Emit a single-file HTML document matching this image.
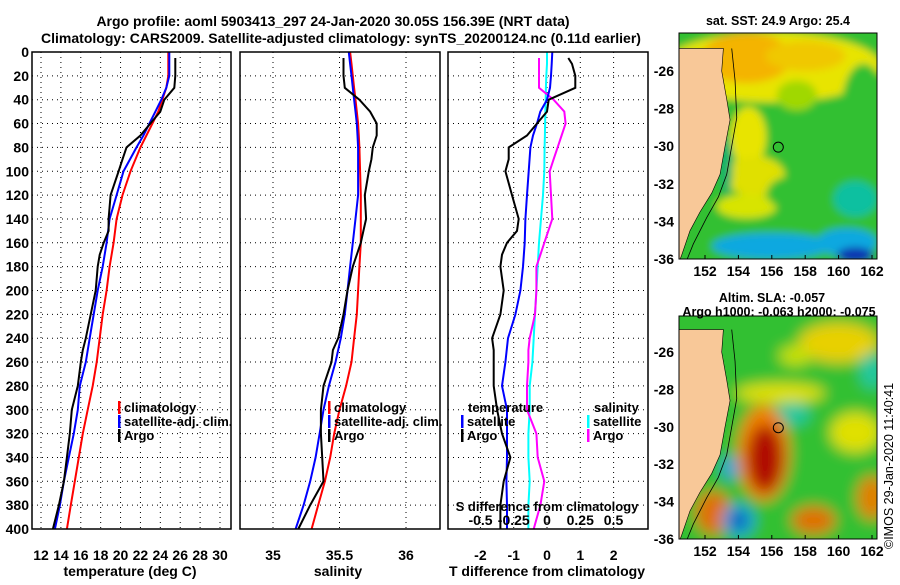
<!DOCTYPE html>
<html><head><meta charset="utf-8">
<style>
body{margin:0;background:#fff;width:900px;height:580px;overflow:hidden;font-family:"Liberation Sans",sans-serif;}
svg text{font-family:"Liberation Sans",sans-serif;font-weight:bold;font-size:14px;fill:#000;}
svg text.lg{font-size:13px;}
</style></head><body>
<svg id="c" width="900" height="580" xmlns="http://www.w3.org/2000/svg">
<defs>
<filter id="bl" x="-50%" y="-50%" width="200%" height="200%"><feGaussianBlur stdDeviation="7"/></filter>
<filter id="bl2" x="-50%" y="-50%" width="200%" height="200%"><feGaussianBlur stdDeviation="4"/></filter>
<clipPath id="cm1"><rect x="679" y="33" width="198" height="226"/></clipPath>
<clipPath id="cm2"><rect x="679" y="316" width="198" height="223"/></clipPath>
</defs>
<text x="333" y="26" text-anchor="middle" font-size="14.5">Argo profile: aoml 5903413_297 24-Jan-2020 30.05S 156.39E (NRT data)</text>
<text x="341" y="43" text-anchor="middle" font-size="14.5">Climatology: CARS2009. Satellite-adjusted climatology: synTS_20200124.nc (0.11d earlier)</text>
<g id="maps"></g>
<text x="778" y="25" text-anchor="middle" style="font-size:12.5px">sat. SST: 24.9 Argo: 25.4</text>
<text x="772" y="302" text-anchor="middle" style="font-size:12.5px">Altim. SLA: -0.057</text>
<text x="779" y="316" text-anchor="middle" style="font-size:12.5px">Argo h1000: -0.063 h2000: -0.075</text>
<text transform="translate(893,549) rotate(-90)" style="font-size:12.5px;font-weight:normal">©IMOS 29-Jan-2020 11:40:41</text>
</svg>
<script>
const depths=[0,10,20,30,40,50,60,70,80,100,120,140,160,180,200,220,240,260,280,300,320,340,360,380,400];
const tClim=[24.8,24.8,24.8,24.6,24.2,23.8,23.2,22.6,22.0,21.0,20.2,19.6,19.3,18.9,18.6,18.2,17.9,17.6,17.2,16.7,16.2,15.8,15.4,15.0,14.6];
const tSat=[24.9,24.9,24.9,24.6,24.1,23.5,22.9,22.3,21.6,20.3,19.6,18.9,18.6,18.2,17.7,17.3,16.9,16.5,15.9,15.7,15.3,14.8,14.3,13.9,13.4];
const argoDepths=[5,10,20,30,40,50,60,70,80,90,100,120,140,150,160,170,180,200,220,240,250,260,280,300,320,340,360,380,400];
const tArgo=[25.5,25.5,25.5,25.4,24.4,24.0,23.0,22.0,20.6,20.2,19.8,19.0,18.8,18.8,18.3,17.9,17.7,17.5,17.0,16.5,16.2,16.0,15.7,15.1,14.9,14.6,14.3,13.8,13.2];
const sClim=[35.58,35.59,35.6,35.61,35.62,35.63,35.64,35.645,35.65,35.655,35.66,35.66,35.66,35.65,35.64,35.63,35.61,35.59,35.55,35.50,35.46,35.43,35.39,35.34,35.29];
const sSat=[35.57,35.58,35.59,35.6,35.61,35.62,35.63,35.635,35.64,35.64,35.64,35.62,35.6,35.58,35.56,35.54,35.51,35.47,35.42,35.38,35.35,35.32,35.28,35.23,35.17];
const sArgo=[35.53,35.53,35.53,35.54,35.65,35.73,35.78,35.78,35.75,35.74,35.72,35.69,35.7,35.68,35.66,35.63,35.6,35.56,35.53,35.49,35.45,35.44,35.38,35.36,35.36,35.37,35.38,35.28,35.19];
const dtSat=[0.16,0.14,0.12,0.09,0.0,-0.2,-0.3,-0.42,-0.5,-0.55,-0.6,-0.65,-0.67,-0.72,-0.8,-0.95,-1.17,-1.25,-1.35,-1.2,-1.2,-1.2,-1.22,-1.2,-1.2];
const dtArgo=[0.64,0.75,0.85,0.85,0.05,0.0,-0.3,-0.6,-1.15,-1.15,-1.25,-1.05,-0.85,-0.9,-1.2,-1.35,-1.4,-1.3,-1.4,-1.65,-1.6,-1.6,-1.6,-1.5,-1.35,-1.1,-1.3,-1.4,-1.4];
const dsSat=[0.0,0.0,-0.005,-0.008,-0.01,-0.012,-0.014,-0.016,-0.018,-0.02,-0.03,-0.045,-0.06,-0.07,-0.08,-0.09,-0.1,-0.11,-0.13,-0.13,-0.14,-0.14,-0.13,-0.14,-0.14];
const dsArgo=[-0.06,-0.06,-0.06,-0.06,0.05,0.13,0.14,0.11,0.08,0.05,0.02,0.03,0.04,0.01,-0.02,-0.05,-0.08,-0.08,-0.09,-0.13,-0.14,-0.14,-0.15,-0.15,-0.08,-0.07,-0.02,-0.05,-0.1];
const yTicks=[0,20,40,60,80,100,120,140,160,180,200,220,240,260,280,300,320,340,360,380,400];
const tTicks=[12,14,16,18,20,22,24,26,28,30];
const sTicks=[35,35.5,36];
const dtTicks=[-2,-1,0,1,2];
const dsTicks=[-0.5,-0.25,0,0.25,0.5];
const latTicks=[-26,-28,-30,-32,-34,-36];
const lonTicks=[152,154,156,158,160,162];

const NS='http://www.w3.org/2000/svg';
const svg=document.getElementById('c');
function mk(t,a,p){const e=document.createElementNS(NS,t);for(const k in a)e.setAttribute(k,a[k]);(p||svg).appendChild(e);return e;}
const Y=d=>52+d*477/400;
const panels=[
 {x0:32,x1:231,sx:v=>41+(v-12)*179/18,name:'temperature'},
 {x0:240,x1:440,sx:v=>273+(v-35)*133,name:'salinity'},
 {x0:448,x1:648,sx:v=>547+v*33.3,name:'tdiff'}];
const sxS=v=>547+v*133;
function grid(p,ticks,sx){
 const g=mk('g',{});
 
 
 yTicks.forEach(d=>{if(d>0&&d<400)mk('line',{x1:p.x0,x2:p.x1,y1:Y(d),y2:Y(d),stroke:'#000','stroke-dasharray':'1,4'},g);});
 ticks.forEach(v=>{const x=sx(v);mk('line',{x1:x,x2:x,y1:52,y2:529,stroke:'#000','stroke-dasharray':'1,4'},g);});
}
function line(xs,ds,sx,col,name){
 const pts=xs.map((v,i)=>sx(v).toFixed(1)+','+Y(ds[i]).toFixed(1)).join(' ');
 const e=mk('polyline',{points:pts,fill:'none',stroke:col,'stroke-width':2});
 
 
}
function txt(x,y,s,anchor,name,p){const e=mk('text',{x:x,y:y,'text-anchor':anchor||'start'},p);e.textContent=s;
 
 return e;}
grid(panels[0],tTicks,panels[0].sx);
grid(panels[1],sTicks,panels[1].sx);
grid(panels[2],dtTicks,panels[2].sx);
line(tClim,depths,panels[0].sx,'#f00','temp-climatology-line');
line(tSat,depths,panels[0].sx,'#00f','temp-satellite-line');
line(tArgo,argoDepths,panels[0].sx,'#000','temp-argo-line');
line(sClim,depths,panels[1].sx,'#f00','sal-climatology-line');
line(sSat,depths,panels[1].sx,'#00f','sal-satellite-line');
line(sArgo,argoDepths,panels[1].sx,'#000','sal-argo-line');
line(dsSat,depths,sxS,'#0ff','sdiff-satellite-line');
line(dsArgo,argoDepths,sxS,'#f0f','sdiff-argo-line');
line(dtSat,depths,panels[2].sx,'#00f','tdiff-satellite-line');
line(dtArgo,argoDepths,panels[2].sx,'#000','tdiff-argo-line');
panels.forEach(p=>{const r=mk('rect',{x:p.x0,y:52,width:p.x1-p.x0,height:477,fill:'none',stroke:'#000','stroke-width':1.5});
 
 });
yTicks.forEach(d=>txt(29,Y(d)+5,String(d),'end','depth-tick-label'));
tTicks.forEach(v=>txt(panels[0].sx(v),560,String(v),'middle','temp-tick-label'));
sTicks.forEach(v=>txt(panels[1].sx(v),560,String(v),'middle','sal-tick-label'));
dtTicks.forEach(v=>txt(panels[2].sx(v),560,String(v),'middle','tdiff-tick-label'));
dsTicks.forEach(v=>txt(sxS(v),525,String(v),'middle','sdiff-tick-label'));
txt(130,576,'temperature (deg C)','middle','temp-axis-title');
txt(338,576,'salinity','middle','sal-axis-title');
txt(547,576,'T difference from climatology','middle','tdiff-axis-title');
txt(547,511,'S difference from climatology','middle','sdiff-axis-title').setAttribute('class','lg');
function leg(x,y,col,s,name){const r=mk('rect',{x:x,y:y-11,width:2.5,height:13,fill:col});
 
 
 txt(x+6,y,s,'start',name).setAttribute('class','lg');}
leg(118,412,'#f00','climatology','legend-climatology');
leg(118,426,'#00f','satellite-adj. clim.','legend-satellite');
leg(118,440,'#000','Argo','legend-argo');
leg(328,412,'#f00','climatology','legend-sal-climatology');
leg(328,426,'#00f','satellite-adj. clim.','legend-sal-satellite');
leg(328,440,'#000','Argo','legend-sal-argo');
txt(468,412,'temperature','start','legend-temp-heading').setAttribute('class','lg');
leg(461,426,'#00f','satellite','legend-tdiff-satellite');
leg(461,440,'#000','Argo','legend-tdiff-argo');
txt(594,412,'salinity','start','legend-sal-heading').setAttribute('class','lg');
leg(587,426,'#0ff','satellite','legend-sdiff-satellite');
leg(587,440,'#f0f','Argo','legend-sdiff-argo');

const maps=[{top:33,y26:71,bot:259,clip:'cm1',name:'sst-map'},{top:316,y26:352,bot:539,clip:'cm2',name:'sla-map'}];
const LX=lon=>705+(lon-152)*16.7;
const mg=document.getElementById('maps');
maps.forEach((m,mi)=>{
 const LY=lat=>m.y26+(-26-lat)*(m.bot-m.y26)/10;
 const E=(g,lon,lat,rx,ry,f)=>mk('ellipse',{cx:LX(lon),cy:LY(lat),rx:rx,ry:ry,fill:f},g);
 const g=mk('g',{'clip-path':'url(#'+m.clip+')'},mg);
 
 
 const b=mk('g',{filter:mi?'url(#bl)':'url(#bl2)'},g);
 mk('rect',{x:660,y:m.top-20,width:240,height:260,fill:'#30c030'},b);
 if(mi===0){
  E(b,156,-25.8,110,35,'#e8e400');
  E(b,154.5,-25.3,45,25,'#f4b400');
  E(b,158,-25.2,40,15,'#f0c800');
  E(b,161.5,-28,22,45,'#30c030');
  E(b,157.5,-27.3,20,15,'#a0d800');
  E(b,154.6,-29.5,18,30,'#e8e400');
  E(b,155,-31.6,30,20,'#e0e000');
  E(b,154.5,-33.2,30,12,'#d8e400');
  E(b,157.5,-32.5,30,18,'#30c030');
  E(b,161,-32.8,22,18,'#10c0a0');
  E(b,156,-35.3,60,13,'#10a8e0');
  E(b,160.5,-35.1,30,14,'#10a8e0');
  E(b,161,-35.8,18,8,'#1030b0');
  E(b,153.3,-31,6,30,'#10b070');
 } else {
  E(b,160,-25.5,40,20,'#e8d000');
  E(b,156.5,-28.2,45,10,'#e0e000');
  E(b,161,-30.3,25,20,'#e0e000');
  E(b,157.2,-29.3,18,12,'#20c8a0');
  E(b,157.4,-26.2,16,10,'#c8e000');
  E(b,155.5,-31.4,26,48,'#f08000');
  E(b,155.6,-31.7,18,34,'#b01000');
  E(b,152.5,-34.6,18,22,'#e07000');
  E(b,154,-35,16,16,'#10a0e0');
  E(b,154,-35,7,7,'#0020a0');
  E(b,153.5,-32.2,8,12,'#30a0e0');
  E(b,158.5,-35,22,14,'#e07000');
  E(b,162,-33.8,15,22,'#e08000');
  E(b,162,-27,12,18,'#20c8a0');
 }
 const land=[[150.3,-24.8],[153.1,-24.8],[153.0,-26],[153.3,-27.5],[153.5,-28.6],[153.2,-30],[152.9,-31.5],[152.4,-32.5],[151.7,-33.5],[151.1,-34.5],[150.6,-35.8],[150.3,-36.5]];
 const pts=land.map(p=>LX(p[0])+','+LY(p[1])).join(' ');
 const l=mk('polygon',{points:pts,fill:'#f8c898',stroke:'#000','stroke-width':0.6},g);
 
 
 const shelf=[[153.6,-24.8],[153.8,-26.5],[153.9,-28.5],[153.6,-30],[153.3,-31.5],[152.8,-32.7],[152.1,-33.8],[151.3,-35.2],[150.8,-36.3]];
 mk('polyline',{points:shelf.map(p=>LX(p[0])+','+LY(p[1])).join(' '),fill:'none',stroke:'#000','stroke-width':0.8},g);
 const c=mk('circle',{cx:LX(156.39),cy:LY(-30.05),r:5,fill:'none',stroke:'#000','stroke-width':1});
 
 
 const fr=mk('rect',{x:679,y:m.top,width:198,height:m.bot-m.top,fill:'none',stroke:'#000'});
 
 
 latTicks.forEach(v=>txt(674,LY(v)+5,String(v),'end','lat-tick-label'));
 lonTicks.forEach(v=>{txt(LX(v),m.bot+17,String(v),'middle','lon-tick-label');
   mk('line',{x1:LX(v),x2:LX(v),y1:m.bot,y2:m.bot-4,stroke:'#000'});});
});
</script>
</body></html>
